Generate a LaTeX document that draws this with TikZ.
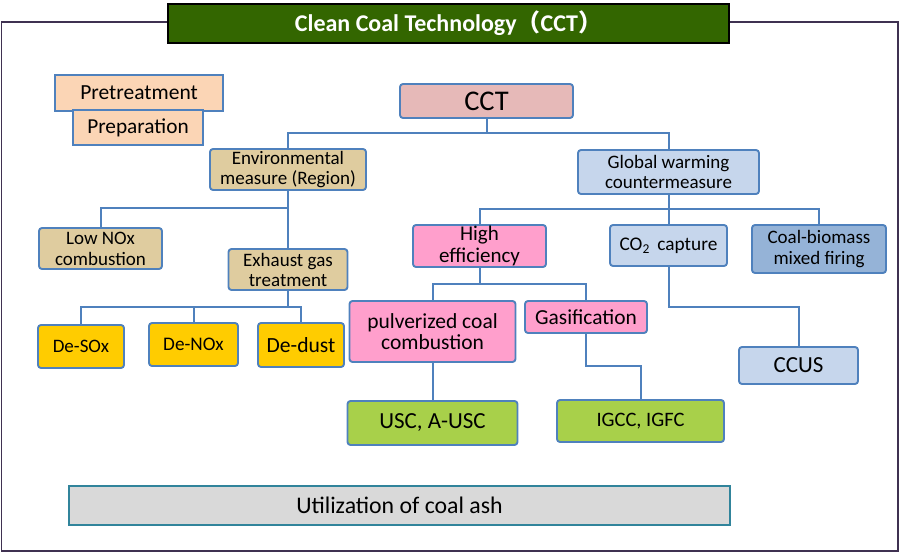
\documentclass[tikz,border=0pt]{standalone}
\usepackage{fontspec}
\setmainfont{Carlito}
\newfontfamily\cjk{Noto Sans CJK SC}
\definecolor{framec}{HTML}{3F3151}
\definecolor{titlec}{HTML}{336600}
\definecolor{bluec}{HTML}{4F81BD}
\definecolor{prec}{HTML}{FBD5B5}
\definecolor{cctc}{HTML}{E6B9B8}
\definecolor{envc}{HTML}{DFCC9F}
\definecolor{globc}{HTML}{C6D6EC}
\definecolor{highc}{HTML}{FF9FCC}
\definecolor{bioc}{HTML}{95B3D7}
\definecolor{goldc}{HTML}{FFCC00}
\definecolor{greenc}{HTML}{A8D04A}
\definecolor{utilc}{HTML}{D9D9D9}
\definecolor{utilb}{HTML}{31849B}
\newcommand{\fs}[2]{\fontsize{#1}{#2}\selectfont}
\begin{document}
\begin{tikzpicture}[x=1pt,y=-1pt,
  box/.style={draw=bluec,line width=1.9pt,inner sep=0pt,align=center,rounded corners=3pt,text=black},
  sqbox/.style={box,rounded corners=0pt},
  conn/.style={draw=bluec,line width=2pt}]
\useasboundingbox (0,0) rectangle (900,553);
% frame
\draw[framec,line width=1.5pt] (1.5,22) rectangle (898,551);
% title
\node[draw=black,line width=1.5pt,fill=titlec,minimum width=561pt,minimum height=39pt,inner sep=0pt,text=white,font=\bfseries\fs{24}{28}] (title) at (448.5,23.5) {Clean Coal Technology{\cjk （}CCT{\cjk ）}};
% nodes
\node[sqbox,fill=prec,minimum width=168pt,minimum height=36pt,font=\fs{21.5}{24}] (pre) at (139,93) {Pretreatment};
\node[sqbox,fill=prec,minimum width=130pt,minimum height=35pt,font=\fs{21.3}{24}] (prep) at (138,127.5) {Preparation};
\node[box,fill=cctc,minimum width=173pt,minimum height=34pt,font=\fs{28.5}{31}] (cct) at (486.5,101) {CCT};
\node[box,fill=envc,minimum width=156pt,minimum height=41pt,font=\fs{19}{20}] (env) at (288,169.5) {Environmental\\measure (Region)};
\node[box,fill=globc,minimum width=181pt,minimum height=44pt,font=\fs{19}{20.5}] (glob) at (668.5,172) {Global warming\\countermeasure};
\node[box,fill=envc,minimum width=123pt,minimum height=41pt,font=\fs{19}{21}] (lownox) at (100.5,248.5) {Low NOx\\combustion};
\node[box,fill=envc,minimum width=119pt,minimum height=41pt,font=\fs{19}{20}] (exh) at (288,269.5) {Exhaust gas\\treatment};
\node[box,fill=goldc,minimum width=86pt,minimum height=43pt,font=\fs{19}{21}] (desox) at (81,346.5) {De-SOx};
\node[box,fill=goldc,minimum width=89pt,minimum height=43pt,font=\fs{19.2}{21}] (denox) at (193.5,344.5) {De-NOx};
\node[box,fill=goldc,minimum width=86pt,minimum height=44pt,font=\fs{21.6}{24}] (dedust) at (301,345) {De-dust};
\node[box,fill=highc,minimum width=133pt,minimum height=42pt,font=\fs{21}{22}] (high) at (479.5,246) {High\\efficiency};
\node[box,fill=globc,minimum width=117pt,minimum height=41pt,font=\fs{19.3}{21}] (co2) at (668.5,245.5) {CO\textsubscript{2}\ \,capture};
\node[box,fill=bioc,minimum width=134pt,minimum height=48pt,font=\fs{19}{20.5}] (bio) at (819,249) {Coal-biomass\\mixed firing};
\node[box,fill=highc,minimum width=166pt,minimum height=61pt,font=\fs{21.5}{21.5}] (pulv) at (432.5,331.5) {pulverized coal\\combustion};
\node[box,fill=highc,minimum width=122pt,minimum height=32pt,font=\fs{21.4}{24}] (gas) at (586,317) {Gasification};
\node[box,fill=greenc,minimum width=170pt,minimum height=44pt,font=\fs{23}{26}] (usc) at (432.5,423) {USC, A-USC};
\node[box,fill=greenc,minimum width=167pt,minimum height=42pt,font=\fs{20.5}{23}] (igcc) at (640.5,421) {IGCC, IGFC};
\node[box,fill=globc,minimum width=119pt,minimum height=37pt,font=\fs{23}{26}] (ccus) at (798.5,365.5) {CCUS};
\node[sqbox,draw=utilb,fill=utilc,minimum width=661pt,minimum height=39pt,font=\fs{23.8}{26}] (util) at (399.5,505.5) {Utilization of coal ash};
% bus levels
\coordinate (b1) at (0,133);
\coordinate (b2) at (0,208);
\coordinate (b3) at (0,307);
\coordinate (b4) at (0,209);
\coordinate (b5) at (0,284);
\coordinate (b6) at (0,366);
\coordinate (b7) at (0,307);
% connectors
\draw[conn] (cct.south) -- (cct.south |- b1);
\draw[conn] (env.north) -- (env.north |- b1) -- (glob.north |- b1) -- (glob.north);
\draw[conn] (env.south) -- (exh.north);
\draw[conn] (lownox.north) |- (env.south |- b2);
\draw[conn] (exh.south) -- (exh.south |- b3);
\draw[conn] (desox.north) -- (desox.north |- b3) -- (dedust.north |- b3) -- (dedust.north);
\draw[conn] (denox.north) -- (denox.north |- b3);
\draw[conn] (glob.south) -- (co2.north);
\draw[conn] (high.north) -- (high.north |- b4) -- (bio.north |- b4) -- (bio.north);
\draw[conn] (high.south) -- (high.south |- b5);
\draw[conn] (pulv.north) -- (pulv.north |- b5) -- (gas.north |- b5) -- (gas.north);
\draw[conn] (pulv.south) -- (usc.north);
\draw[conn] (gas.south) -- (gas.south |- b6) -- (igcc.north |- b6) -- (igcc.north);
\draw[conn] (co2.south) -- (co2.south |- b7) -- (ccus.north |- b7) -- (ccus.north);
\end{tikzpicture}
\end{document}
